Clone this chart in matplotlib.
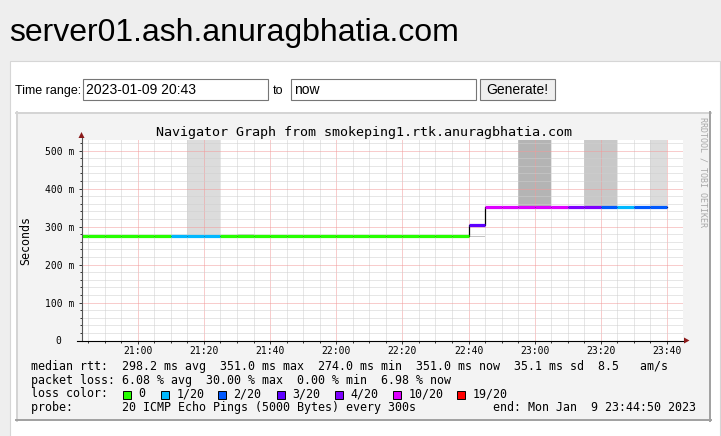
import matplotlib
matplotlib.use("Agg")
import matplotlib.pyplot as plt
import matplotlib.dates as mdates
from matplotlib.ticker import MultipleLocator, FuncFormatter
from matplotlib.patches import Rectangle, Polygon
from matplotlib.lines import Line2D
from matplotlib.transforms import Affine2D
import numpy as np

W, H = 721, 436

page_title = "server01.ash.anuragbhatia.com"
range_from = "2023-01-09 20:43"
range_to = "now"
graph_title = "Navigator Graph from smokeping1.rtk.anuragbhatia.com"
y_label = "Seconds"

# rrd steps of 5 minutes, start of each step
step_start = np.arange(np.datetime64("2023-01-09T20:40"),
                       np.datetime64("2023-01-09T23:40"),
                       np.timedelta64(5, "m"))
median_ms = [274, 274, 274, 274, 274, 274,   # 20:40 - 21:05
             274, 274, 274, 274, 274, 274,   # 21:10 - 21:35
             274, 274, 274, 274, 274, 274,   # 21:40 - 22:05
             274, 274, 274, 274, 274, 274,   # 22:10 - 22:35
             303, 351, 351, 351, 351, 351,   # 22:40 - 23:05
             351, 351, 351, 351, 351, 351]   # 23:10 - 23:35
lost_pings = [0, 0, 0, 0, 0, 0,
              1, 1, 1, 0, 0, 0,
              0, 0, 0, 0, 0, 0,
              0, 0, 0, 0, 0, 0,
              3, 10, 10, 10, 10, 10,
              4, 4, 2, 1, 2, 2]

# smoke (spread of the single pings)
smoke_start = np.array(["2023-01-09T21:15", "2023-01-09T21:30", "2023-01-09T22:40",
                        "2023-01-09T22:55", "2023-01-09T23:15", "2023-01-09T23:35"],
                       dtype="datetime64[m]")
smoke_steps = [2, 1, 1, 2, 2, 1]
smoke_lo = [274, 274, 272.5, 351, 351, 351]
smoke_hi = [620, 281, 275.5, 620, 620, 620]
smoke_grey = ["#dcdcdc", "#cdcdcd", "#c4c4c4", "#b4b4b4", "#c8c8c8", "#dcdcdc"]

loss_levels = [0, 1, 2, 3, 4, 10, 19]
loss_labels = ["0", "1/20", "2/20", "3/20", "4/20", "10/20", "19/20"]
loss_colors = ["#26ff00", "#00b8ff", "#0059ff", "#5e00ff", "#7e00ff", "#dd00ff", "#ff0000"]

rtt_line = "median rtt:  298.2 ms avg  351.0 ms max  274.0 ms min  351.0 ms now  35.1 ms sd  8.5   am/s"
loss_line = "packet loss: 6.08 % avg  30.00 % max  0.00 % min  6.98 % now"
probe_line = "probe:       20 ICMP Echo Pings (5000 Bytes) every 300s"
end_line = "end: Mon Jan  9 23:44:50 2023"

x_start = np.datetime64("2023-01-09T20:43:00")
x_end = np.datetime64("2023-01-09T23:44:50")

plt.rcParams["font.family"] = "DejaVu Sans Mono"
sans = "Liberation Sans"

fig = plt.figure(figsize=(W / 100, H / 100), dpi=100, facecolor="#eeeeee")
# pixel coordinates, origin top left
px = Affine2D().scale(1 / W, -1 / H).translate(0, 1) + fig.transFigure


def box(x0, y0, x1, y1, z=-2, **kw):
    fig.add_artist(Rectangle((x0, y0), x1 - x0, y1 - y0, transform=px, zorder=z, **kw))


def line(xs, ys, z=-1, **kw):
    fig.add_artist(Line2D(xs, ys, transform=px, zorder=z, **kw))


# page
fig.text(9, 41, page_title, transform=px, family=sans, fontsize=23, va="baseline")
box(9.5, 61.5, 719.5, 450, facecolor="white", edgecolor="#d6d6d6", lw=0.8)

fig.text(15, 94, "Time range:", transform=px, family=sans, fontsize=9, va="baseline")
box(82.5, 79.5, 267.5, 100.5, facecolor="white", edgecolor="#767676", lw=0.8)
fig.text(86, 94, range_from, transform=px, family=sans, fontsize=10, va="baseline")
fig.text(273, 94, "to", transform=px, family=sans, fontsize=9, va="baseline")
box(290.5, 79.5, 475.5, 100.5, facecolor="white", edgecolor="#767676", lw=0.8)
fig.text(294, 94, range_to, transform=px, family=sans, fontsize=10, va="baseline")
box(479.5, 79.5, 554.5, 100.5, facecolor="#efefef", edgecolor="#767676", lw=0.8)
fig.text(517, 94, "Generate!", transform=px, family=sans, fontsize=10, va="baseline", ha="center")

# rrd canvas
box(16, 112, 711, 421, facecolor="#f3f3f3", edgecolor="none")
line([16, 711], [113, 113], color="#d4d4d4", lw=1.4)
line([17, 17], [112, 421], color="#d4d4d4", lw=1.4)
line([16, 711], [420, 420], color="#a0a0a0", lw=1.4)
line([710, 710], [112, 421], color="#a0a0a0", lw=1.4)

fig.text(363.5, 136, graph_title, transform=px, fontsize=9.6, ha="center", va="baseline")
fig.text(26, 240, y_label, transform=px, fontsize=8.4, rotation=90, ha="center", va="center")
fig.text(703, 172, "RRDTOOL / TOBI OETIKER", transform=px, fontsize=6, rotation=270,
         ha="center", va="center", color="#a8a8a8")

ax = fig.add_axes([81.5 / W, 1 - 340.5 / H, (683 - 81.5) / W, (340.5 - 140) / H])
ax.set_zorder(1)
ax.set_facecolor("white")
for s in ax.spines.values():
    s.set_visible(False)

t0 = mdates.date2num(step_start)
t1 = mdates.date2num(step_start + np.timedelta64(5, "m"))
ts = mdates.date2num(smoke_start)
five = 5 / 1440

ax.bar(ts, np.subtract(smoke_hi, smoke_lo), bottom=smoke_lo, width=np.multiply(smoke_steps, five),
       align="edge", color=smoke_grey, linewidth=0, zorder=1)

idx = np.searchsorted(loss_levels, lost_pings, side="right") - 1
ax.step(np.append(t0, t1[-1]), np.append(median_ms, median_ms[-1]), where="post",
        color="black", lw=0.9, zorder=2.8)
ax.hlines(median_ms, t0, t1, colors=[loss_colors[i] for i in idx], linewidth=2.3, zorder=3)

ax.set_xlim(mdates.date2num(x_start), mdates.date2num(x_end))
ax.set_ylim(0, 528)

ax.xaxis.set_major_locator(mdates.MinuteLocator(byminute=[0, 20, 40]))
ax.xaxis.set_minor_locator(mdates.MinuteLocator(byminute=range(0, 60, 5)))
ax.xaxis.set_major_formatter(mdates.DateFormatter("%H:%M"))
ax.yaxis.set_major_locator(MultipleLocator(100))
ax.yaxis.set_minor_locator(MultipleLocator(20))
ax.yaxis.set_major_formatter(FuncFormatter(lambda v, p: "0  " if v == 0 else "%d m" % v))

ax.set_axisbelow(False)
ax.grid(which="minor", color="#cfcfcf", lw=0.72, ls=(0, (1, 1)))
ax.grid(which="major", color="#f29a9a", lw=0.72, ls=(0, (1, 1)))
ax.tick_params(which="major", length=2.2, width=0.7, color="#333333", labelsize=7)
ax.tick_params(which="minor", length=1.4, width=0.7, color="#333333")
ax.tick_params(axis="x", which="major", pad=1.5)
ax.tick_params(axis="y", which="major", pad=3.2)

# axes lines and arrows
line([81.5, 81.5], [341, 137], z=3, color="#555555", lw=0.8)
line([77, 684], [340.5, 340.5], z=3, color="black", lw=0.8)
fig.add_artist(Polygon([(78.5, 138), (84.5, 138), (81.5, 132)], closed=True, transform=px,
                       facecolor="#8b1a1a", edgecolor="none", zorder=3))
fig.add_artist(Polygon([(684, 337.5), (684, 343.5), (689.5, 340.5)], closed=True, transform=px,
                       facecolor="#8b1a1a", edgecolor="none", zorder=3))

# legend
fig.text(31, 370, rtt_line, transform=px, fontsize=8.4, va="baseline")
fig.text(31, 383.7, loss_line, transform=px, fontsize=8.4, va="baseline")
fig.text(31, 397.4, "loss color:", transform=px, fontsize=8.4, va="baseline")
sq_x = [123, 161, 218, 277, 335, 393, 457]
for x, lab, col in zip(sq_x, loss_labels, loss_colors):
    box(x, 390.5, x + 8, 398.5, z=3, facecolor=col, edgecolor="black", lw=0.7)
    fig.text(x + 15.5, 397.4, lab, transform=px, fontsize=8.4, va="baseline")
fig.text(31, 411, probe_line, transform=px, fontsize=8.4, va="baseline")
fig.text(493, 411, end_line, transform=px, fontsize=8.4, va="baseline")

fig.savefig("out.png", dpi=100, facecolor=fig.get_facecolor())
